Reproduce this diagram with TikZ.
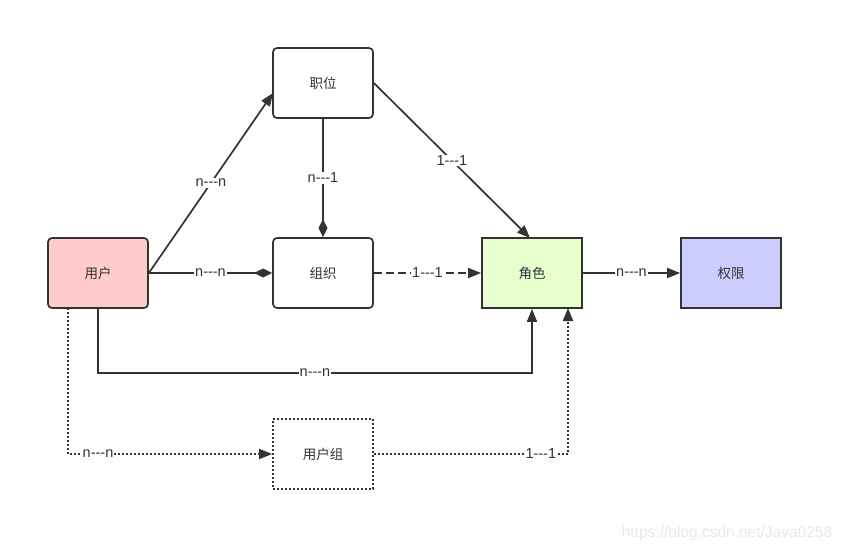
\documentclass[tikz,border=0pt]{standalone}
\usepackage{fontspec}
\setmainfont[Ligatures=NoCommon]{Liberation Sans}
\newfontfamily\cjk{Noto Sans CJK SC}
\usetikzlibrary{arrows.meta}
\definecolor{ln}{HTML}{333333}
\definecolor{userfill}{HTML}{FFCCCC}
\definecolor{rolefill}{HTML}{E6FFCC}
\definecolor{permfill}{HTML}{CCCCFF}
\newcommand{\tri}{-{}-{}-}
\tikzset{
  box/.style={draw=ln, line width=1.7pt, minimum width=100pt, minimum height=70pt, inner sep=0pt, font=\cjk\fontsize{13.5}{15}\selectfont, text=ln},
  rbox/.style={box, rounded corners=4pt},
  conn/.style={draw=ln, line width=1.7pt},
  arr/.style={-{Triangle[length=13pt,width=10pt]}},
  dia/.style={-{Diamond[length=18pt,width=9pt]}},
  lbl/.style={fill=white, inner sep=1pt, font=\fontsize{14.5}{16}\selectfont, text=ln},
  dotline/.style={dash pattern=on 1.7pt off 2.3pt},
  dashline/.style={dash pattern=on 8pt off 4pt},
}
\begin{document}
\begin{tikzpicture}[x=1pt,y=-1pt]
\useasboundingbox (0,0) rectangle (843,551);
\node[rbox, fill=userfill] (user) at (98,273) {用户};
\node[rbox, fill=white] (pos) at (323,83) {职位};
\node[rbox, fill=white] (org) at (323,273) {组织};
\node[box, fill=rolefill] (role) at (532,273) {角色};
\node[box, fill=permfill] (perm) at (731,273) {权限};
\node[box, fill=white, dotline] (grp) at (323,454) {用户组};
\coordinate (c1) at (98,373);
\coordinate (c2) at (532,373);
\coordinate (d1) at (68,454);
\coordinate (d2) at (568,454);
\coordinate (ub) at (68,308);
\coordinate (rb) at (568,308);
\coordinate (pl) at (273,93);
\coordinate (rt) at (530,238);

\draw[conn, arr] (user.east) -- node[lbl, pos=0.5] {n\tri n} (pl);
\draw[conn, dia] (user.east) -- node[lbl, pos=0.5] {n\tri n} (org.west);
\draw[conn, dia] (pos.south) -- node[lbl, pos=0.5] {n\tri 1} (org.north);
\draw[conn, arr] (pos.east) -- node[lbl, pos=0.5] {1\tri 1} (rt);
\draw[conn, arr, dashline] (org.east) -- node[lbl] {1\tri 1} (role.west);
\draw[conn, arr] (role.east) -- node[lbl] {n\tri n} (perm.west);
\draw[conn, arr] (user.south) -- (c1) -- node[lbl, pos=0.5] {n\tri n} (c2) -- (role.south);
\draw[conn, arr, dotline] (ub) -- (d1) -- node[lbl, pos=0.147] {n\tri n} (grp.west);
\draw[conn, arr, dotline] (grp.east) -- node[lbl, pos=0.86] {1\tri 1} (d2) -- (rb);
\node[font=\fontsize{15.5}{17}\selectfont, text=black!9] (wm) at (727,533) {https://blog.csdn.net/Java0258};
\end{tikzpicture}
\end{document}
